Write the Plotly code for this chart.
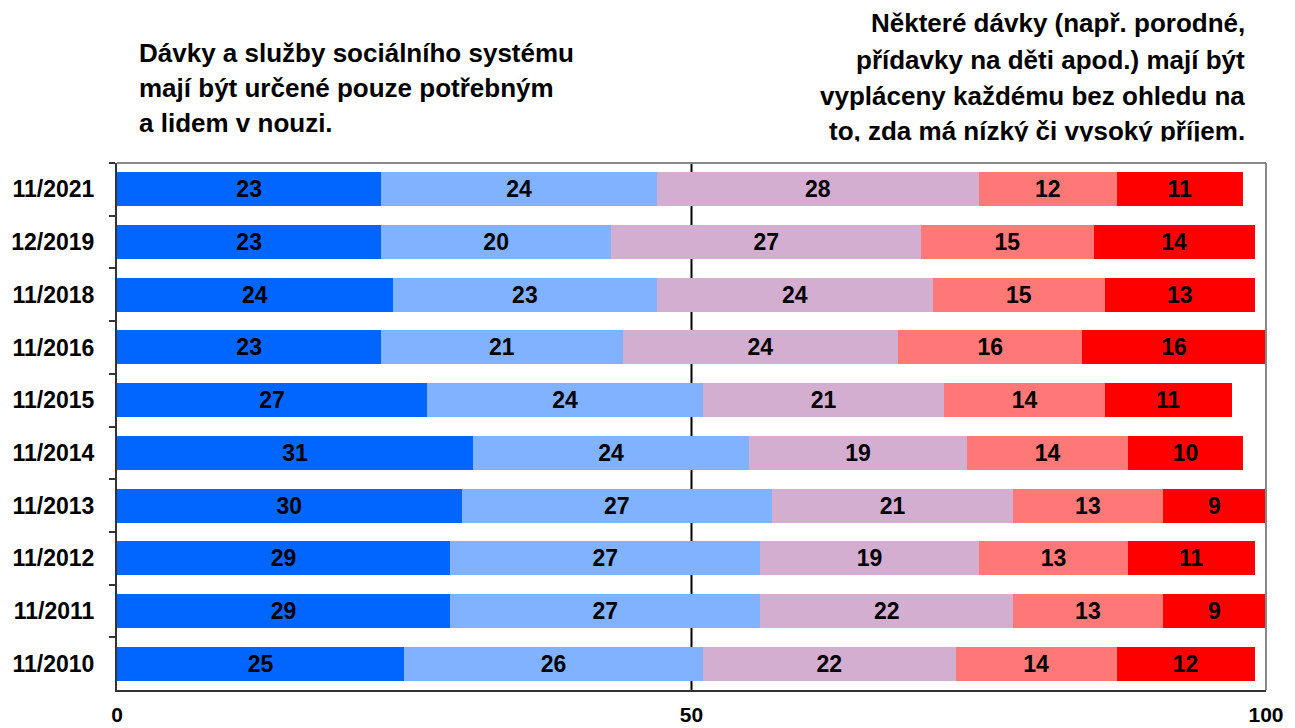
import plotly.graph_objects as go

categories = ["11/2021", "12/2019", "11/2018", "11/2016", "11/2015",
              "11/2014", "11/2013", "11/2012", "11/2011", "11/2010"]

s1 = [23, 23, 24, 23, 27, 31, 30, 29, 29, 25]
s2 = [24, 20, 23, 21, 24, 24, 27, 27, 27, 26]
s3 = [28, 27, 24, 24, 21, 19, 21, 19, 22, 22]
s4 = [12, 15, 15, 16, 14, 14, 13, 13, 13, 14]
s5 = [11, 14, 13, 16, 11, 10, 9, 11, 9, 12]

series = [s1, s2, s3, s4, s5]
colors = ["#0066FF", "#80B2FF", "#D3AED1", "#FF7878", "#FF0000"]

x_ticks = [0, 50, 100]

left_title = ["Dávky a služby sociálního systému",
              "mají být určené pouze potřebným",
              "a lidem v nouzi."]
right_title = ["Některé dávky (např. porodné,",
               "přídavky na děti apod.) mají být",
               "vypláceny každému bez ohledu na",
               "to, zda má nízký či vysoký příjem."]

FONT = "Arial, Liberation Sans, sans-serif"

fig = go.Figure()
for vals, col in zip(series, colors):
    fig.add_trace(go.Bar(
        y=categories, x=vals, orientation="h",
        marker=dict(color=col, line=dict(width=0)),
        text=vals, texttemplate="%{text}",
        textposition="inside", insidetextanchor="middle", textangle=0,
        textfont=dict(family=FONT, size=23, color="black", weight="bold"),
        hoverinfo="skip", showlegend=False,
    ))

# page body has an 8px margin; figure is sized so the page fits the window
OFF = 8
W, H = 1295 - OFF, 728 - OFF
L, R, T, B = 117 - OFF, 29, 163 - OFF, 38
pw, ph = W - L - R, H - T - B

def px2x(x):
    return (x - OFF - L) / pw

def px2y(y):
    return (H - B - (y - OFF)) / ph

annotations = []
for txt, yc in zip(left_title, [53, 88, 123]):
    annotations.append(dict(
        text=txt, x=px2x(137), y=px2y(yc), xref="paper", yref="paper",
        xanchor="left", yanchor="middle", showarrow=False,
        font=dict(family=FONT, size=26, color="black", weight="bold")))
for txt, yc in zip(right_title, [23, 60, 96, 131]):
    annotations.append(dict(
        text=txt, x=px2x(1247), y=px2y(yc), xref="paper", yref="paper",
        xanchor="right", yanchor="middle", showarrow=False,
        font=dict(family=FONT, size=26, color="black", weight="bold")))
# white strip that clips the lower part of the last title line
annotations.append(dict(
    text=" ", x=px2x(1262), y=px2y(141), xref="paper", yref="paper",
    xanchor="right", yanchor="top", showarrow=False, width=480, height=18,
    bgcolor="white", borderpad=0, font=dict(size=4)))

fig.update_layout(
    width=W, height=H,
    margin=dict(l=L, r=R, t=T, b=B, pad=0, autoexpand=False),
    barmode="stack", bargap=0.355,
    paper_bgcolor="white", plot_bgcolor="white",
    font=dict(family=FONT, color="black"),
    uniformtext=dict(minsize=23, mode="show"),
    xaxis=dict(range=[0, 100], tickvals=x_ticks, ticktext=[str(v) for v in x_ticks],
               showgrid=False, zeroline=False, showline=True, linecolor="#333333",
               linewidth=2, ticks="", ticklabelstandoff=5, automargin=False,
               tickfont=dict(family=FONT, size=21, color="black", weight="bold")),
    yaxis=dict(categoryorder="array", categoryarray=categories, autorange="reversed",
               showgrid=False, zeroline=False, showline=True, linecolor="#333333",
               linewidth=2, ticks="outside", ticklen=6, tickwidth=1.5, automargin=False,
               tickcolor="#333333", tickson="boundaries", ticklabelstandoff=16,
               tickfont=dict(family=FONT, size=23, color="black", weight="bold")),
    annotations=annotations,
    shapes=[
        dict(type="line", xref="x", yref="paper", x0=50, x1=50, y0=0, y1=1,
             line=dict(color="black", width=2), layer="below"),
        dict(type="line", xref="paper", yref="paper", x0=0, x1=1, y0=1, y1=1,
             line=dict(color="#888888", width=2), layer="above"),
        dict(type="line", xref="paper", yref="paper", x0=1, x1=1, y0=0, y1=1,
             line=dict(color="#888888", width=2), layer="above"),
    ],
)

fig.write_html("out.html")
